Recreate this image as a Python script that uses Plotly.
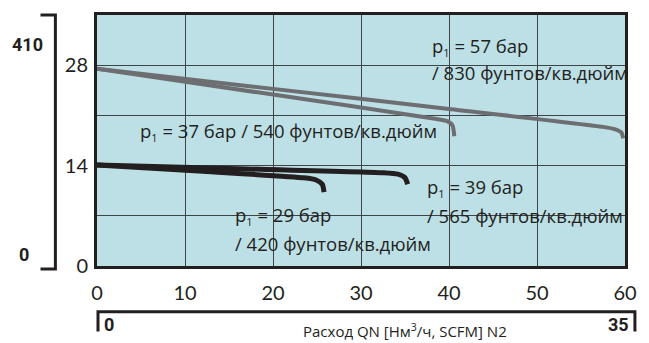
import plotly.graph_objects as go

# ---- data ----
x_57 = [0, 20, 40, 57.5, 58.9, 59.6, 59.8]
y_57 = [27.5, 24.7, 21.9, 19.4, 19.05, 18.6, 17.8]
x_37 = [0, 20, 38.6, 39.8, 40.4, 40.6]
y_37 = [27.5, 23.9, 20.5, 20.2, 19.6, 18.1]
x_39 = [0, 15, 32.5, 34.2, 35.0, 35.3]
y_39 = [14.1, 13.6, 13.0, 12.8, 12.3, 11.4]
x_29 = [0, 12, 23.5, 24.9, 25.6, 25.8]
y_29 = [14.1, 13.2, 12.3, 12.0, 11.4, 10.3]

x_ticks = [0, 10, 20, 30, 40, 50, 60]
y_ticks = [0, 14, 28]
y_grid_step = 7

psi_labels = ["410", "0"]
scfm_labels = ["0", "35"]
x_title = "Расход QN [Нм<sup>3</sup>/ч, SCFM] N2"

P1 = "p<sub><span style='font-size:11px'>1</span></sub>"
labels = [
    (P1 + " = 57 бар", 37.8, 30.6),
    ("/ 830 фунтов/кв.дюйм", 37.8, 27.0),
    (P1 + " = 37 бар / 540 фунтов/кв.дюйм", 4.7, 18.8),
    (P1 + " = 39 бар", 37.3, 10.9),
    ("/ 565 фунтов/кв.дюйм", 37.3, 7.05),
    (P1 + " = 29 бар", 15.5, 7.05),
    ("/ 420 фунтов/кв.дюйм", 15.5, 3.2),
]

GRAY = "#6d6e71"
BLACK = "#231f20"
GRID = "#3c4446"

fig = go.Figure()
for xs, ys, c, w in [(x_57, y_57, GRAY, 4), (x_37, y_37, GRAY, 4),
                     (x_39, y_39, BLACK, 5), (x_29, y_29, BLACK, 5)]:
    fig.add_trace(go.Scatter(x=xs, y=ys, mode="lines",
                             line=dict(color=c, width=w, shape="spline", smoothing=0.6),
                             hoverinfo="skip", showlegend=False))

tick_font = dict(family="Lato, Roboto, sans-serif", size=20, color="#231f20")
txt_font = dict(family="Open Sans, Noto Sans, sans-serif", size=18.5, color="#231f20")
bold_font = dict(family="Roboto, sans-serif", size=18, color="#231f20", weight="bold")

fig.update_layout(
    width=649, height=343,
    margin=dict(l=97, r=19, t=13, b=77),
    paper_bgcolor="white",
    plot_bgcolor="#bde0e6",
    showlegend=False,
    xaxis=dict(range=[0, 60], tickvals=x_ticks, showgrid=True, gridcolor=GRID,
               gridwidth=1, zeroline=False, showline=True, linecolor="#231f20",
               linewidth=3, mirror=True, ticks="", tickfont=tick_font,
               ticklabelstandoff=7, fixedrange=True),
    yaxis=dict(range=[0, 35], tickvals=y_ticks, showgrid=True,
               gridcolor=GRID, gridwidth=1, zeroline=False, showline=True,
               linecolor="#231f20", linewidth=3, mirror=True, ticks="",
               minor=dict(dtick=y_grid_step, tick0=0, showgrid=True, gridcolor=GRID,
                          gridwidth=1, ticks=""),
               tickfont=tick_font, ticklabelstandoff=2, fixedrange=True),
)

for t, xx, yy in labels:
    fig.add_annotation(x=xx, y=yy, xref="x", yref="y", text=t, showarrow=False,
                       xanchor="left", yanchor="middle", font=txt_font)

# secondary (psi) bracket on the left
lc = dict(color="#231f20", width=3)
fig.add_shape(type="path", xref="paper", yref="paper",
              path="M -0.107 1.0 L -0.0788 1.0 L -0.0788 -0.012 L -0.107 -0.012",
              line=lc)
fig.add_annotation(x=-0.131, y=0.882, xref="paper", yref="paper", text=psi_labels[0],
                   showarrow=False, xanchor="center", yanchor="middle", font=bold_font)
fig.add_annotation(x=-0.139, y=0.047, xref="paper", yref="paper", text=psi_labels[1],
                   showarrow=False, xanchor="center", yanchor="middle", font=bold_font)

# secondary (SCFM) bracket below
fig.add_shape(type="path", xref="paper", yref="paper",
              path="M 0.0019 -0.261 L 0.0019 -0.182 L 1.0188 -0.182 L 1.0188 -0.261",
              line=lc)
fig.add_annotation(x=0.0225, y=-0.233, xref="paper", yref="paper", text=scfm_labels[0],
                   showarrow=False, xanchor="center", yanchor="middle", font=bold_font)
fig.add_annotation(x=0.987, y=-0.233, xref="paper", yref="paper", text=scfm_labels[1],
                   showarrow=False, xanchor="center", yanchor="middle", font=bold_font)
fig.add_annotation(x=0.5835, y=-0.257, xref="paper", yref="paper", text=x_title,
                   showarrow=False, xanchor="center", yanchor="middle",
                   font=dict(family="Open Sans, Noto Sans, sans-serif", size=15,
                             color="#231f20"))

fig.write_html("out.html", config={"displayModeBar": False},
               post_script="document.body.style.margin='0';document.body.style.overflow='hidden';")
